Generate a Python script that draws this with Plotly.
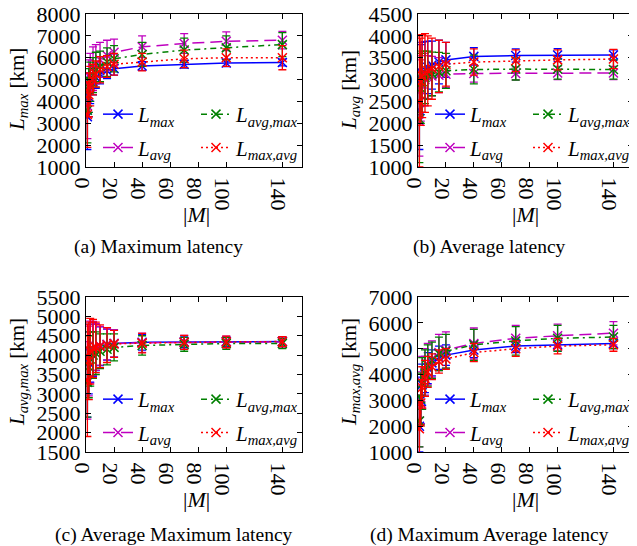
import plotly.graph_objects as go

# ---------------- data ----------------
M = [1, 2, 3, 5, 7, 10, 15, 20, 40, 70, 100, 140]

series_names = ["L_max", "L_avg", "L_avg_max", "L_max_avg"]

# (a) Maximum latency
a_Lmax = [3300, 4200, 4600, 4900, 5100, 5250, 5400, 5500, 5620, 5700, 5760, 5780]
a_Lavg = [3800, 4700, 5100, 5500, 5700, 5900, 6100, 6250, 6500, 6650, 6750, 6800]
a_Lavgmax = [3600, 4500, 4900, 5200, 5450, 5600, 5800, 5950, 6150, 6350, 6450, 6600]
a_Lmaxavg = [3400, 4300, 4700, 5000, 5250, 5450, 5600, 5700, 5800, 5950, 6000, 6000]
a_err_Lmax = [1500, 900, 700, 600, 500, 450, 350, 300, 200, 180, 170, 150]
a_err_Lavg = [1500, 1200, 1100, 1000, 900, 800, 700, 600, 500, 450, 430, 400]
a_err_Lavgmax = [1500, 1000, 900, 800, 800, 700, 650, 600, 550, 550, 550, 550]
a_err_Lmaxavg = [1500, 1000, 900, 700, 600, 600, 500, 500, 400, 400, 400, 550]

# (b) Average latency
b_Lmax = [2300, 3000, 3150, 3220, 3280, 3330, 3400, 3450, 3530, 3550, 3560, 3560]
b_Lavg = [2050, 2750, 2900, 3000, 3050, 3080, 3100, 3120, 3140, 3140, 3150, 3150]
b_Lavgmax = [2100, 2800, 2950, 3050, 3100, 3130, 3170, 3200, 3230, 3240, 3240, 3230]
b_Lmaxavg = [2500, 2950, 3080, 3150, 3200, 3250, 3300, 3350, 3400, 3430, 3450, 3470]
b_err_Lmax = [900, 800, 700, 650, 600, 550, 500, 400, 200, 150, 150, 120]
b_err_Lavg = [800, 700, 650, 600, 500, 450, 400, 300, 200, 150, 150, 150]
b_err_Lavgmax = [1000, 800, 700, 600, 550, 500, 450, 400, 330, 250, 230, 220]
b_err_Lmaxavg = [1500, 1000, 950, 900, 800, 700, 600, 500, 300, 250, 230, 220]

# (c) Average Maximum latency
c_Lmax = [3300, 3800, 4050, 4150, 4200, 4230, 4270, 4300, 4330, 4340, 4350, 4350]
c_Lavg = [3350, 3850, 4080, 4170, 4210, 4240, 4280, 4300, 4320, 4330, 4340, 4340]
c_Lavgmax = [3300, 3700, 3900, 4000, 4050, 4100, 4150, 4200, 4250, 4280, 4300, 4300]
c_Lmaxavg = [3350, 3850, 4100, 4170, 4200, 4230, 4260, 4290, 4310, 4330, 4340, 4350]
c_err_Lmax = [900, 800, 750, 700, 600, 500, 400, 350, 200, 150, 130, 120]
c_err_Lavg = [1000, 900, 800, 700, 600, 500, 400, 350, 250, 180, 150, 130]
c_err_Lavgmax = [900, 800, 700, 600, 550, 450, 400, 350, 250, 180, 150, 130]
c_err_Lmaxavg = [1450, 1000, 850, 750, 650, 550, 450, 350, 250, 180, 150, 130]

# (d) Maximum Average latency
d_Lmax = [2000, 3000, 3600, 4000, 4250, 4450, 4650, 4750, 4950, 5100, 5150, 5200]
d_Lavg = [2200, 3100, 3700, 4100, 4400, 4600, 4850, 4950, 5200, 5400, 5500, 5600]
d_Lavgmax = [2200, 3050, 3650, 4050, 4350, 4550, 4800, 4900, 5150, 5300, 5400, 5450]
d_Lmaxavg = [1900, 2900, 3500, 3850, 4100, 4300, 4500, 4600, 4850, 5000, 5100, 5150]
d_err_Lmax = [1000, 900, 800, 700, 600, 500, 450, 400, 300, 250, 250, 200]
d_err_Lavg = [1000, 1000, 1000, 900, 800, 700, 700, 700, 600, 500, 450, 450]
d_err_Lavgmax = [1000, 1000, 1000, 900, 800, 700, 650, 650, 600, 550, 500, 450]
d_err_Lmaxavg = [1000, 900, 800, 700, 600, 500, 450, 400, 350, 300, 300, 250]

x_ticks = [0, 20, 40, 60, 80, 100, 140]
y_ticks_a = [1000, 2000, 3000, 4000, 5000, 6000, 7000, 8000]
y_ticks_b = [1000, 1500, 2000, 2500, 3000, 3500, 4000, 4500]
y_ticks_c = [1500, 2000, 2500, 3000, 3500, 4000, 4500, 5000, 5500]
y_ticks_d = [1000, 2000, 3000, 4000, 5000, 6000, 7000]

legend_labels = ["<i>L<sub>max</sub></i>", "<i>L<sub>avg</sub></i>",
                 "<i>L<sub>avg,max</sub></i>", "<i>L<sub>max,avg</sub></i>"]
captions = ["(a) Maximum latency", "(b) Average latency",
            "(c) Average Maximum latency", "(d) Maximum Average latency"]
y_titles = ["<i>L<sub>max</sub></i> [km]", "<i>L<sub>avg</sub></i> [km]",
            "<i>L<sub>avg,max</sub></i> [km]", "<i>L<sub>max,avg</sub></i> [km]"]

# ---------------- styling ----------------
OFF = 8  # page body margin; the figure starts at (8, 8) in the window
W, H = 637 - OFF, 546 - OFF
FONT = "Liberation Serif"
TICK = 22
colors = ["#0000ff", "#bf00bf", "#008000", "#ff0000"]
dashes = ["solid", "12px,6px", "6px,4px,2px,4px", "2px,3px"]

panels = [
    dict(vals=[a_Lmax, a_Lavg, a_Lavgmax, a_Lmaxavg],
         errs=[a_err_Lmax, a_err_Lavg, a_err_Lavgmax, a_err_Lmaxavg],
         yr=[1000, 8000], yt=y_ticks_a, px=(86, 302), py=(14, 167)),
    dict(vals=[b_Lmax, b_Lavg, b_Lavgmax, b_Lmaxavg],
         errs=[b_err_Lmax, b_err_Lavg, b_err_Lavgmax, b_err_Lmaxavg],
         yr=[1000, 4500], yt=y_ticks_b, px=(418, 633), py=(14, 167)),
    dict(vals=[c_Lmax, c_Lavg, c_Lavgmax, c_Lmaxavg],
         errs=[c_err_Lmax, c_err_Lavg, c_err_Lavgmax, c_err_Lmaxavg],
         yr=[1500, 5500], yt=y_ticks_c, px=(86, 302), py=(297, 452)),
    dict(vals=[d_Lmax, d_Lavg, d_Lavgmax, d_Lmaxavg],
         errs=[d_err_Lmax, d_err_Lavg, d_err_Lavgmax, d_err_Lmaxavg],
         yr=[1000, 7000], yt=y_ticks_d, px=(418, 633), py=(297, 452)),
]

caption_pos = [(158, 247), (490, 247), (174, 535), (490, 535)]
mlabel_pos = [(196, 215), (525, 215), (196, 499), (525, 499)]
ytitle_pos = [(18, 90), (350, 90), (18, 372), (350, 372)]


def fx(px):
    return (px - OFF) / W


def fy(py):
    return 1 - (py - OFF) / H


fig = go.Figure()
layout = dict(width=W, height=H,
              margin=dict(l=0, r=0, t=0, b=0, pad=0, autoexpand=False),
              paper_bgcolor="white", plot_bgcolor="white",
              font=dict(family=FONT, size=TICK, color="black"),
              showlegend=True)
annotations = []

for i, p in enumerate(panels):
    n = i + 1
    xa = "x" if n == 1 else f"x{n}"
    ya = "y" if n == 1 else f"y{n}"
    xkey = "xaxis" if n == 1 else f"xaxis{n}"
    ykey = "yaxis" if n == 1 else f"yaxis{n}"
    x0, x1 = p["px"]
    y0, y1 = p["py"]
    common = dict(ticks="inside", ticklen=5, tickwidth=1, tickcolor="black",
                  showline=True, linecolor="black", linewidth=1, mirror="ticks",
                  showgrid=False, zeroline=False, automargin=False,
                  ticklabeloverflow="allow",
                  tickfont=dict(family=FONT, size=TICK, color="black"))
    layout[xkey] = dict(domain=[fx(x0), fx(x1)], anchor=ya, range=[0, 154],
                        tickvals=x_ticks, ticklabelstandoff=-6, **common)
    layout[ykey] = dict(domain=[fy(y1), fy(y0)], anchor=xa,
                        range=p["yr"], tickvals=p["yt"], **common)
    leg1 = "legend" if n == 1 else f"legend{2 * n - 1}"
    leg2 = f"legend{2 * n}"
    for s in range(4):
        fig.add_trace(go.Scatter(
            x=M, y=p["vals"][s], xaxis=xa, yaxis=ya,
            mode="lines+markers", name=legend_labels[s],
            legend=leg1 if s < 2 else leg2,
            legendgroup=f"p{n}s{s}",
            line=dict(color=colors[s], width=1.5, dash=dashes[s]),
            marker=dict(symbol="x-thin", size=9,
                        line=dict(color=colors[s], width=1.5)),
            error_y=dict(type="data", array=p["errs"][s], visible=True,
                         color=colors[s], thickness=1.3, width=4),
        ))
    for lk, lxp in ((leg1, x0 + 12), (leg2, x0 + 110)):
        layout[lk] = dict(x=fx(lxp), y=fy(y1 - 73), xanchor="left",
                          yanchor="top", orientation="v",
                          bgcolor="rgba(0,0,0,0)", borderwidth=0,
                          tracegroupgap=3,
                          font=dict(family=FONT, size=21, color="black"))
    cx, cy = caption_pos[i]
    annotations.append(dict(text=captions[i], x=fx(cx), y=fy(cy),
                            xref="paper", yref="paper", showarrow=False,
                            xanchor="center", yanchor="middle",
                            font=dict(family=FONT, size=19.5, color="black")))
    mx, my = mlabel_pos[i]
    annotations.append(dict(text="|<i>M</i>|", x=fx(mx), y=fy(my),
                            xref="paper", yref="paper", showarrow=False,
                            xanchor="center", yanchor="middle",
                            font=dict(family=FONT, size=22, color="black")))
    tx, ty = ytitle_pos[i]
    annotations.append(dict(text=y_titles[i], x=fx(tx), y=fy(ty),
                            xref="paper", yref="paper", showarrow=False,
                            textangle=-90, xanchor="center", yanchor="middle",
                            font=dict(family=FONT, size=21, color="black")))

layout["annotations"] = annotations
fig.update_layout(**layout)
fig.write_html("out.html")
